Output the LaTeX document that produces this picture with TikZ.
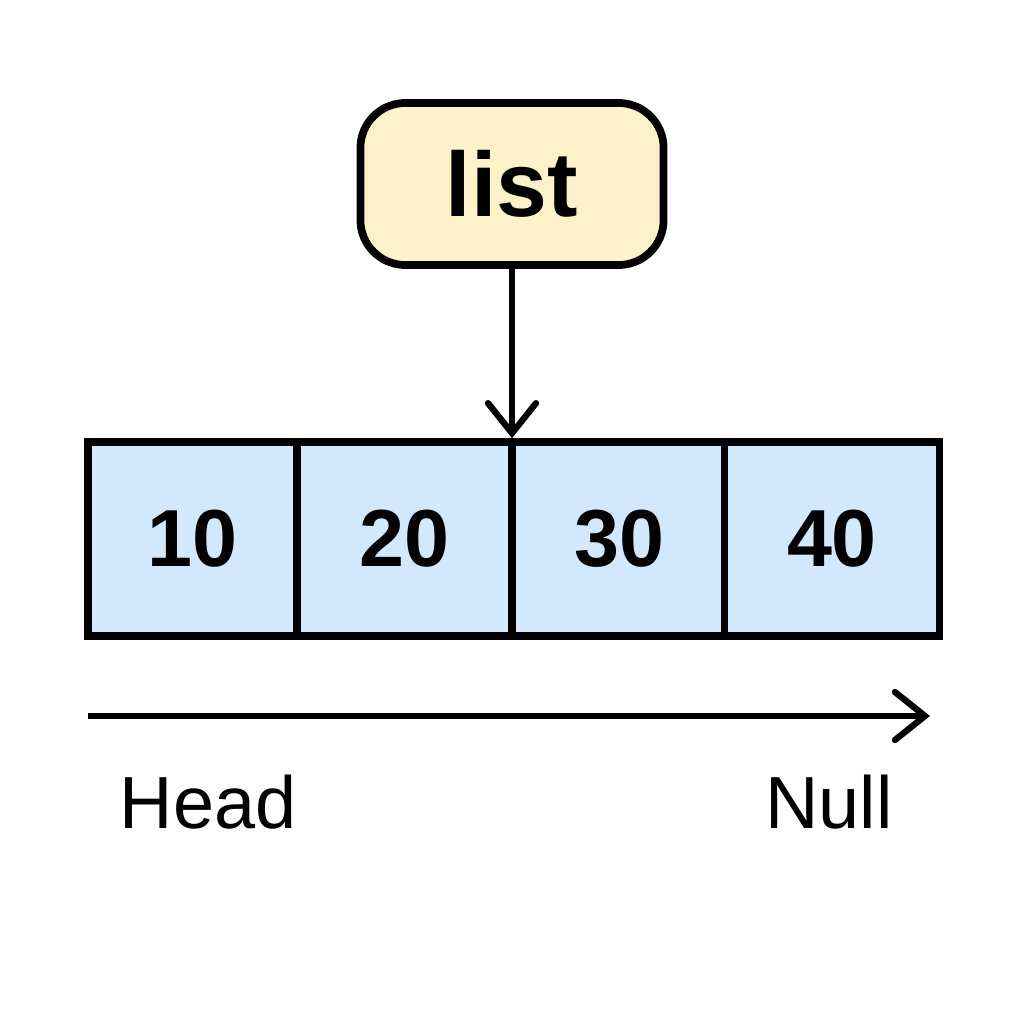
\documentclass[tikz,border=0pt]{standalone}
\usepackage{fontspec}
\setmainfont{Liberation Sans}
\usetikzlibrary{arrows.meta}
\definecolor{listfill}{HTML}{FDF1C9}
\definecolor{cellfill}{HTML}{D2E8FC}
\tikzset{
  px/.style={x=0.01cm,y=-0.01cm},
  listbox/.style={draw=black,line width=2.2pt,fill=listfill,rounded corners=0.45cm,minimum width=3.03cm,minimum height=1.62cm,font=\fontsize{26}{30}\selectfont\bfseries},
  cell/.style={draw=black,line width=2.1pt,fill=cellfill,minimum width=2.15cm,minimum height=1.94cm,font=\fontsize{23}{26}\selectfont\bfseries,inner sep=0pt},
  vtip/.style={-{Straight Barb[length=0.3cm,width=0.48cm,line width=1.8pt,line cap=round]}},
  lbl/.style={font=\fontsize{21}{24}\selectfont,inner sep=0pt,anchor=base}
}
\begin{document}
\begin{tikzpicture}[px]
\useasboundingbox (0,0) rectangle (1024,1024);
\node[listbox] (list) at (512,184) {list};
\node[cell,minimum width=2.09cm] (c1) at (192.5,539) {10};
\node[cell] (c2) at (404.5,539) {20};
\node[cell] (c3) at (619.5,539) {30};
\node[cell] (c4) at (832,539) {40};
\draw[line width=1.8pt,vtip] (list.south) -- (list.south |- c3.north);
\coordinate (a0) at (88,716);
\coordinate (a1) at (930,716);
\draw[line width=1.7pt,vtip] (a0) -- (a1);
\node[lbl] (head) at (208,828) {Head};
\node[lbl] (null) at (829,828) {Null};
\end{tikzpicture}
\end{document}
